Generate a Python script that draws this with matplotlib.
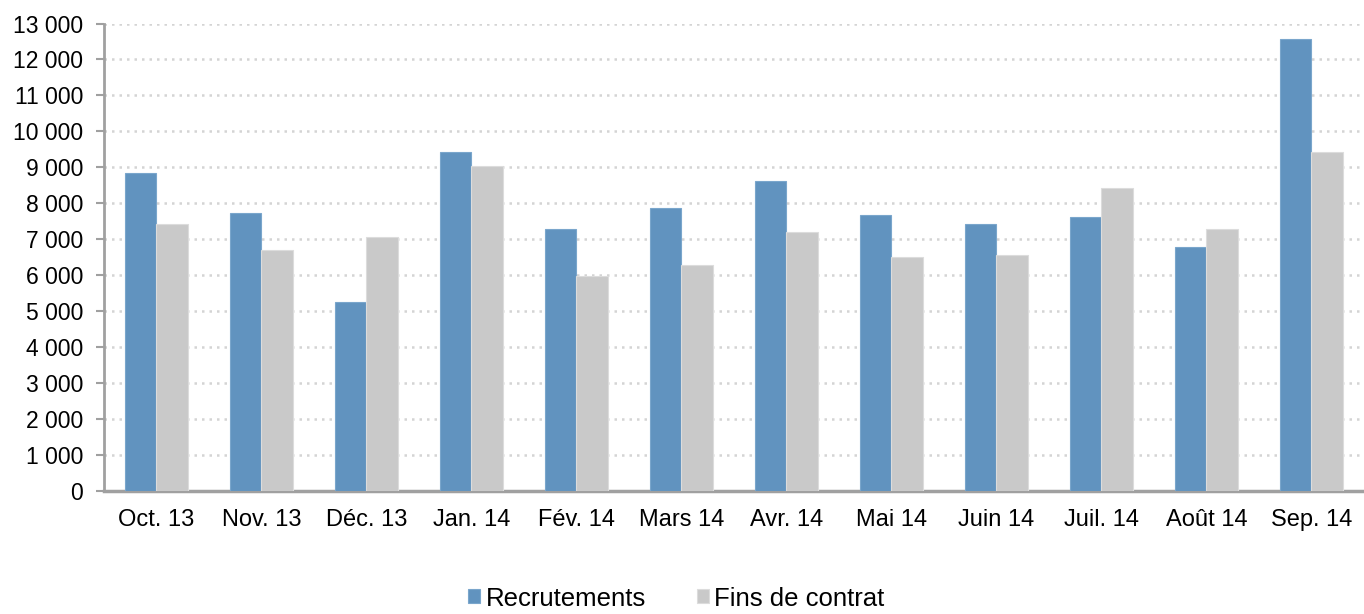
import numpy as np
import matplotlib.pyplot as plt
from matplotlib.ticker import FuncFormatter

plt.rcParams['font.family'] = ['Liberation Sans', 'DejaVu Sans']

mois = ['Oct. 13', 'Nov. 13', 'Déc. 13', 'Jan. 14', 'Fév. 14', 'Mars 14',
        'Avr. 14', 'Mai 14', 'Juin 14', 'Juil. 14', 'Août 14', 'Sep. 14']
recrutements = [8830, 7740, 5250, 9430, 7290, 7880, 8630, 7670, 7425, 7630, 6780, 12570]
fins_contrat = [7430, 6710, 7070, 9050, 5985, 6290, 7210, 6495, 6570, 8420, 7280, 9420]

bleu = '#6193bf'
gris = '#c9c9c9'

fig = plt.figure(figsize=(13.64, 6.14), dpi=100)
ax = fig.add_axes([0.0762, 0.2003, 0.9238, 0.7614])

x = np.arange(len(mois))
w = 0.3
ax.bar(x - w / 2, recrutements, w, color=bleu, edgecolor='#7aa6cc', linewidth=0.8,
       label='Recrutements', zorder=3)
ax.bar(x + w / 2, fins_contrat, w, color=gris, edgecolor='#dcdcdc', linewidth=0.8,
       label='Fins de contrat', zorder=3)

ax.set_xlim(-0.5, len(mois) - 0.5)
ax.set_ylim(0, 13000)
ax.set_yticks(np.arange(0, 13001, 1000))
ax.yaxis.set_major_formatter(FuncFormatter(lambda v, p: f'{int(v):,}'.replace(',', ' ')))
ax.set_xticks(x)
ax.set_xticklabels(mois)

ax.grid(axis='y', linestyle=(0, (1, 2)), color='#d4d4d4', linewidth=1.8, zorder=0)
for s in ['top', 'right']:
    ax.spines[s].set_visible(False)
ax.spines['left'].set_color('#a0a0a0')
ax.spines['left'].set_linewidth(2)
ax.spines['bottom'].set_color('#a0a0a0')
ax.spines['bottom'].set_linewidth(2.5)
ax.tick_params(axis='y', labelsize=16.5, length=6, width=1.5, color='#a0a0a0', pad=9)
ax.tick_params(axis='x', labelsize=17, length=0, pad=13)

fig.legend(loc='lower center', bbox_to_anchor=(0.496, -0.032), ncol=2, frameon=False,
           fontsize=18.5, handlelength=0.47, handleheight=0.47, handletextpad=0.2,
           columnspacing=2.0)

fig.savefig('out.png', dpi=100)
